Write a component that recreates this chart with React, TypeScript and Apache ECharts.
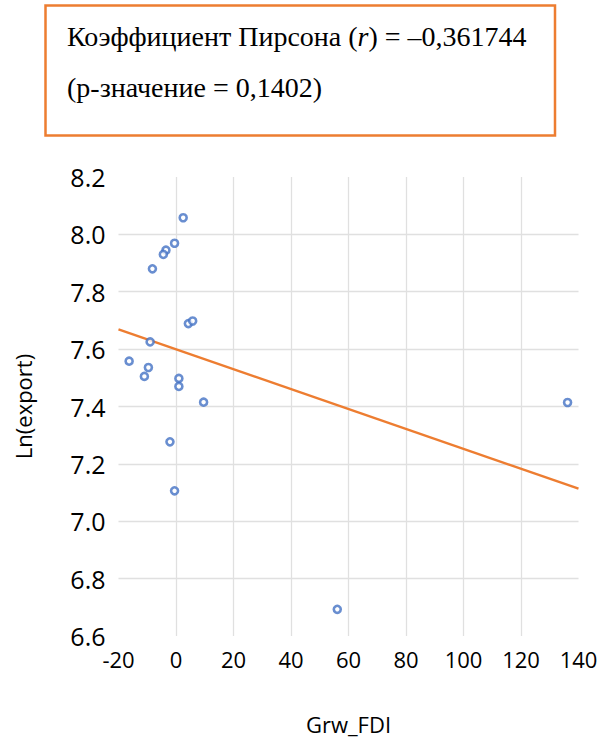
import React, { useEffect, useRef } from "react";
import * as echarts from "echarts";

const grwFdi = [2.5, -0.5, -3.5, -4.4, -8.2, 4.3, 5.8, -9.0, -16.3, -9.6, -11.0, 1.0, 1.0, 9.6, -2.1, -0.5, 136.2, 56.1];
const lnExport = [8.058, 7.969, 7.945, 7.93, 7.88, 7.689, 7.698, 7.625, 7.558, 7.536, 7.505, 7.498, 7.47, 7.415, 7.277, 7.106, 7.414, 6.693];
const xTicks = { min: -20, max: 140, interval: 20 };
const yTicks = { min: 6.6, max: 8.2, interval: 0.2 };
const annotationLine1 = "Коэффициент Пирсона ({i|r}) = –0,361744";
const annotationLine2 = "(р-значение = 0,1402)";

function regression(xs: number[], ys: number[]) {
  const n = xs.length;
  const mx = xs.reduce((a, b) => a + b, 0) / n;
  const my = ys.reduce((a, b) => a + b, 0) / n;
  let sxy = 0, sxx = 0;
  for (let i = 0; i < n; i++) {
    sxy += (xs[i] - mx) * (ys[i] - my);
    sxx += (xs[i] - mx) * (xs[i] - mx);
  }
  const b = sxy / sxx;
  return { a: my - b * mx, b };
}

export default function App() {
  const ref = useRef<HTMLDivElement>(null);
  useEffect(() => {
    if (!ref.current) return;
    const chart = echarts.init(ref.current, null, { renderer: "svg" });
    const { a, b } = regression(grwFdi, lnExport);
    const trend = [xTicks.min, xTicks.max].map((x) => [x, a + b * x]);
    const serif = "'Liberation Serif', 'Times New Roman', serif";
    const sans = "'Open Sans', 'Noto Sans', sans-serif";
    chart.setOption({
      animation: false,
      backgroundColor: "#ffffff",
      grid: { left: 118.5, right: 24.5, top: 177, bottom: 104, containLabel: false, outerBoundsMode: "none" },
      xAxis: {
        type: "value",
        min: xTicks.min,
        max: xTicks.max,
        interval: xTicks.interval,
        name: "Grw_FDI",
        nameLocation: "middle",
        nameGap: 77,
        nameTextStyle: { fontFamily: sans, fontSize: 22, color: "#000" },
        axisLine: { show: false },
        axisTick: { show: false },
        axisLabel: { fontFamily: sans, fontSize: 22, color: "#000", margin: 12 },
        splitLine: { show: true, showMinLine: false, showMaxLine: false, lineStyle: { color: "#e0e0e0", width: 1.3 } },
      },
      yAxis: {
        type: "value",
        min: yTicks.min,
        max: yTicks.max,
        interval: yTicks.interval,
        name: "Ln(export)",
        nameLocation: "middle",
        nameGap: 96,
        nameTextStyle: { fontFamily: sans, fontSize: 22, color: "#000", verticalAlign: "middle" },
        axisLine: { show: false },
        axisTick: { show: false },
        axisLabel: {
          fontFamily: sans,
          fontSize: 25,
          color: "#000",
          margin: 13,
          formatter: (v: number) => v.toFixed(1),
        },
        splitLine: { show: true, showMinLine: false, showMaxLine: false, lineStyle: { color: "#e0e0e0", width: 1.3 } },
      },
      series: [
        {
          type: "line",
          data: trend,
          symbol: "none",
          lineStyle: { color: "#ED7D31", width: 2.4 },
          z: 2,
        },
        {
          type: "scatter",
          data: grwFdi.map((x, i) => [x, lnExport[i]]),
          symbol: "circle",
          symbolSize: 7,
          itemStyle: { color: "#ffffff", borderColor: "#4472C4", borderWidth: 2.6 },
          z: 3,
        },
      ],
      graphic: [
        {
          type: "rect",
          shape: { x: 45.5, y: 5.5, width: 509.5, height: 130 },
          style: { fill: "#ffffff", stroke: "#ED7D31", lineWidth: 2.5 },
        },
        {
          type: "text",
          x: 67,
          y: 36,
          style: {
            text: annotationLine1,
            fontFamily: serif,
            fontSize: 28,
            fill: "#000",
            verticalAlign: "middle",
            rich: { i: { fontFamily: serif, fontSize: 28, fontStyle: "italic", fill: "#000" } },
          },
        },
        {
          type: "text",
          x: 67,
          y: 87,
          style: {
            text: annotationLine2,
            fontFamily: serif,
            fontSize: 28,
            fill: "#000",
            verticalAlign: "middle",
          },
        },
      ],
    });
    return () => chart.dispose();
  }, []);
  return <div ref={ref} style={{ position: "absolute", left: 0, top: 0, width: 603, height: 740 }} />;
}
